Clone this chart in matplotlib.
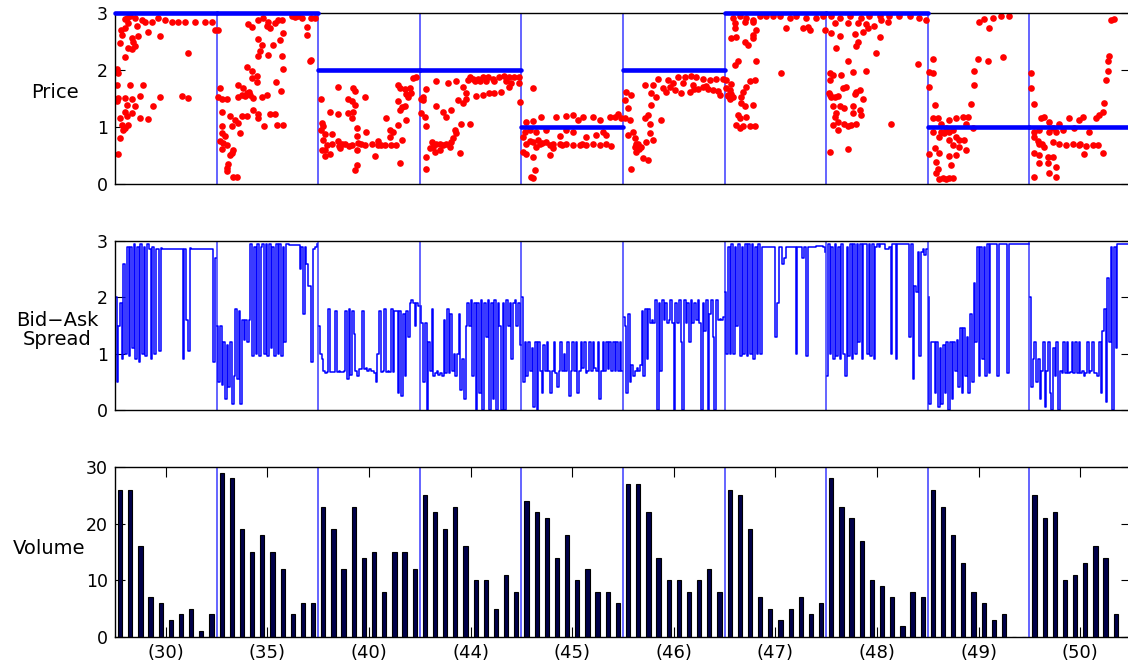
import matplotlib
matplotlib.use("Agg")
import matplotlib.pyplot as plt
import numpy as np

plt.rcParams["font.family"] = ["DejaVu Sans"]

# ---- data -----------------------------------------------------------------
seg_labels = ["(30)", "(35)", "(40)", "(44)", "(45)",
              "(46)", "(47)", "(48)", "(49)", "(50)"]

# fundamental value per segment (thick blue line in the price panel)
price_level = [3, 3, 2, 2, 1, 2, 3, 3, 1, 1]

# traded volume, 10 periods per segment
volume = [
    26, 26, 16, 7, 6, 3, 4, 5, 1, 4,
    29, 28, 19, 15, 18, 15, 12, 4, 6, 6,
    23, 19, 12, 23, 14, 15, 8, 15, 15, 12,
    25, 22, 19, 23, 16, 10, 10, 5, 11, 8,
    24, 22, 21, 14, 18, 10, 12, 8, 8, 6,
    27, 27, 22, 14, 10, 10, 8, 10, 12, 8,
    26, 25, 19, 7, 5, 3, 5, 7, 4, 6,
    28, 23, 21, 17, 10, 9, 7, 2, 8, 7,
    26, 23, 18, 13, 8, 6, 3, 4, 0, 0,
    25, 21, 22, 10, 11, 13, 16, 14, 4, 0,
]

# transaction prices: (time within segment 0..10, price)
price_30 = [
    (1.15, 2.92), (1.97, 2.91), (2.62, 2.88), (2.95, 2.85), (3.6, 2.84), (4.26, 2.91),
    (4.9, 2.87), (5.57, 2.84), (6.2, 2.84), (6.9, 2.84), (7.87, 2.85), (8.85, 2.84),
    (9.5, 2.84), (9.84, 2.71), (1.31, 2.82), (0.98, 2.74), (2.13, 2.77), (0.66, 2.62),
    (1.64, 2.56), (2.3, 2.59), (3.28, 2.67), (4.43, 2.59), (0.49, 2.47), (1.31, 2.39),
    (1.64, 2.36), (1.97, 2.42), (1.8, 2.5), (0.98, 2.22), (7.2, 2.29), (0.16, 2.02),
    (0.33, 1.95), (0.16, 1.74), (1.48, 1.74), (2.79, 1.74), (0.33, 1.51), (0.16, 1.45),
    (0.98, 1.51), (1.64, 1.5), (2.46, 1.54), (4.43, 1.52), (6.56, 1.54), (7.2, 1.51),
    (1.15, 1.39), (1.97, 1.36), (3.77, 1.37), (0.98, 1.27), (1.64, 1.25), (0.49, 1.16),
    (1.15, 1.19), (2.46, 1.16), (3.28, 1.14), (0.66, 1.04), (1.31, 1.04), (0.82, 0.95),
    (0.49, 0.81), (0.33, 0.53), (1.0, 2.9), (1.5, 2.95), (0.6, 2.7), (1.0, 0.98),
]
price_35 = [
    (0.16, 2.71), (3.11, 2.81), (4.1, 2.88), (4.59, 2.91), (5.08, 2.85), (5.74, 2.82),
    (6.07, 2.88), (6.39, 2.87), (7.38, 2.94), (8.36, 2.92), (9.34, 2.91), (9.67, 2.91),
    (4.92, 2.77), (3.44, 2.75), (5.25, 2.74), (6.56, 2.65), (8.85, 2.75), (8.85, 2.62),
    (4.1, 2.55), (6.23, 2.53), (5.57, 2.44), (4.43, 2.43), (4.26, 2.34), (4.1, 2.24),
    (5.08, 2.26), (6.46, 2.24), (9.28, 2.18), (9.18, 2.15), (2.95, 2.06), (3.44, 1.98),
    (3.93, 1.89), (3.44, 1.86), (6.56, 2.01), (3.93, 1.79), (5.84, 1.79), (6.33, 1.64),
    (0.33, 1.68), (2.13, 1.74), (2.62, 1.68), (2.46, 1.57), (2.95, 1.6), (3.28, 1.56),
    (3.61, 1.51), (2.13, 1.52), (4.43, 1.53), (4.92, 1.56), (0.16, 1.52), (0.49, 1.5),
    (0.98, 1.49), (3.61, 1.3), (4.1, 1.23), (5.25, 1.23), (5.74, 1.23), (0.49, 1.26),
    (1.31, 1.19), (1.8, 1.13), (2.13, 1.07), (2.46, 1.2), (2.95, 1.2), (4.1, 1.15),
    (5.9, 1.04), (6.56, 1.03), (4.66, 1.02), (0.49, 1.01), (1.48, 1.01), (0.49, 0.89),
    (0.82, 0.85), (2.3, 0.89), (0.33, 0.75), (0.66, 0.72), (0.98, 0.69), (0.49, 0.62),
    (1.64, 0.6), (1.48, 0.54), (1.31, 0.51), (1.15, 0.35), (0.98, 0.28), (0.98, 0.22),
    (1.64, 0.13), (1.97, 0.12), (3.2, 1.62), (2.8, 1.55), (8.0, 2.95), (7.7, 2.93),
]
price_40 = [
    (0.26, 1.5), (1.97, 1.71), (3.44, 1.68), (3.61, 1.63), (4.59, 1.52), (2.95, 1.5),
    (3.28, 1.45), (3.61, 1.38), (1.15, 1.26), (1.97, 1.23), (2.95, 1.25), (3.44, 1.26),
    (3.28, 1.16), (6.72, 1.16), (7.87, 1.74), (8.03, 1.68), (8.52, 1.67), (9.02, 1.68),
    (9.34, 1.86), (9.67, 1.87), (9.18, 1.6), (8.69, 1.58), (8.85, 1.52), (7.87, 1.46),
    (8.2, 1.35), (8.52, 1.36), (8.03, 1.3), (8.69, 1.13), (0.33, 1.07), (0.49, 1.01),
    (0.26, 0.95), (0.66, 0.87), (1.31, 0.87), (1.97, 0.75), (2.62, 0.7), (3.28, 0.69),
    (3.93, 0.72), (4.59, 0.69), (5.25, 0.7), (5.9, 0.68), (6.56, 0.68), (7.21, 0.68),
    (7.7, 0.68), (1.31, 0.7), (0.82, 0.69), (0.49, 0.78), (0.33, 0.6), (0.66, 0.6),
    (1.15, 0.53), (2.13, 0.64), (3.77, 0.6), (5.57, 0.49), (3.77, 0.98), (4.75, 0.92),
    (3.77, 0.84), (5.9, 0.76), (7.05, 0.95), (7.38, 0.92), (7.87, 1.04), (7.05, 0.82),
    (8.2, 0.78), (8.03, 0.37), (3.77, 0.34), (3.61, 0.25), (0.66, 0.49), (2.3, 0.7),
    (4.2, 0.7), (6.2, 0.69), (2.0, 0.66), (3.0, 0.66),
]
price_44 = [
    (0.65, 1.66), (1.63, 1.8), (2.78, 1.77), (3.59, 1.8), (4.25, 1.71), (4.74, 1.82),
    (5.23, 1.84), (5.72, 1.85), (6.21, 1.88), (6.7, 1.87), (7.19, 1.85), (7.84, 1.88),
    (8.33, 1.89), (8.82, 1.88), (9.31, 1.87), (9.8, 1.88), (4.9, 1.88), (5.39, 1.8),
    (5.88, 1.81), (6.54, 1.8), (7.35, 1.8), (8.5, 1.8), (8.99, 1.77), (8.82, 1.7),
    (8.01, 1.62), (7.35, 1.59), (6.86, 1.6), (6.21, 1.56), (5.56, 1.54), (4.58, 1.59),
    (4.58, 1.5), (4.25, 1.42), (3.76, 1.47), (0.33, 1.47), (0.16, 1.24), (0.49, 1.18),
    (0.65, 1.01), (1.63, 1.36), (2.29, 1.27), (3.1, 1.3), (2.61, 1.18), (3.43, 0.95),
    (3.59, 0.89), (4.08, 1.06), (4.9, 1.06), (3.27, 0.8), (3.1, 0.74), (2.94, 0.65),
    (2.29, 0.68), (1.63, 0.71), (1.31, 0.65), (0.98, 0.63), (1.47, 0.57), (1.96, 0.6),
    (3.92, 0.54), (0.65, 0.48), (0.65, 0.27), (9.8, 1.77), (9.9, 1.43), (0.16, 1.5),
    (0.33, 1.52), (2.0, 0.7), (2.6, 0.7), (1.2, 0.74),
]
price_45 = [
    (1.15, 1.68), (0.49, 1.09), (1.15, 1.11), (1.97, 1.18), (3.44, 1.17), (4.43, 1.19),
    (5.08, 1.21), (5.57, 1.13), (6.07, 1.18), (7.05, 1.18), (7.7, 1.13), (8.69, 1.17),
    (9.18, 1.18), (9.51, 1.23), (9.84, 1.15), (0.33, 0.92), (0.82, 0.95), (0.16, 0.83),
    (1.48, 0.92), (2.46, 0.95), (3.77, 0.84), (4.43, 0.95), (5.08, 0.92), (6.39, 0.83),
    (7.38, 0.86), (8.36, 0.86), (8.03, 0.92), (0.49, 0.71), (1.15, 0.74), (1.8, 0.71),
    (2.46, 0.74), (3.11, 0.71), (3.77, 0.7), (4.43, 0.71), (5.08, 0.68), (5.74, 0.68),
    (6.39, 0.68), (7.05, 0.7), (7.7, 0.68), (8.36, 0.7), (8.85, 0.67), (1.48, 0.65),
    (3.11, 0.63), (0.16, 0.57), (0.49, 0.53), (1.15, 0.48), (2.79, 0.51), (1.31, 0.25),
    (0.98, 0.13), (1.15, 0.1), (2.0, 0.72), (2.8, 0.69), (4.0, 0.68), (6.0, 0.71),
    (0.8, 0.76), (1.6, 0.78),
]
price_46 = [
    (0.16, 1.47), (0.33, 1.62), (0.82, 1.56), (0.49, 1.33), (0.16, 1.15), (0.66, 1.12),
    (0.98, 0.92), (0.49, 0.86), (1.15, 0.8), (1.48, 0.71), (1.8, 0.65), (1.31, 0.57),
    (1.97, 0.45), (0.82, 0.27), (1.15, 0.65), (2.3, 0.74), (2.62, 0.89), (2.62, 1.06),
    (2.46, 1.21), (2.13, 1.15), (2.95, 0.77), (2.46, 0.42), (3.77, 1.12), (2.79, 1.39),
    (2.13, 1.74), (2.79, 1.59), (2.95, 1.74), (3.44, 1.85), (4.43, 1.82), (5.41, 1.88),
    (6.07, 1.88), (6.72, 1.89), (7.21, 1.87), (7.87, 1.85), (8.52, 1.82), (9.18, 1.84),
    (9.84, 1.85), (3.28, 1.53), (4.26, 1.62), (5.08, 1.65), (5.74, 1.59), (6.56, 1.62),
    (7.38, 1.66), (8.36, 1.66), (9.34, 1.64), (3.93, 1.68), (4.92, 1.77), (5.9, 1.77),
    (6.89, 1.74), (7.87, 1.7), (8.85, 1.65), (9.51, 1.56), (1.3, 0.7), (1.6, 0.62),
    (4.6, 1.7), (7.0, 1.66), (8.2, 1.72),
]
price_47 = [
    (0.82, 2.92), (1.48, 2.94), (2.13, 2.91), (2.79, 2.88), (3.44, 2.95), (4.1, 2.94),
    (4.75, 2.95), (5.41, 2.94), (6.39, 2.92), (7.05, 2.94), (8.03, 2.92), (9.02, 2.92),
    (9.67, 2.94), (0.98, 2.82), (1.97, 2.85), (2.79, 2.85), (0.66, 2.57), (1.15, 2.58),
    (1.97, 2.5), (2.3, 2.44), (2.79, 2.61), (2.79, 2.56), (3.11, 2.71), (0.98, 2.74),
    (6.07, 2.73), (7.7, 2.73), (8.2, 2.75), (8.36, 2.7), (9.84, 2.7), (1.31, 2.15),
    (0.98, 2.09), (3.11, 2.15), (5.57, 1.94), (0.16, 1.82), (0.66, 1.75), (0.49, 1.65),
    (0.33, 1.56), (0.82, 1.53), (0.49, 1.49), (0.16, 1.68), (1.8, 1.62), (1.64, 1.53),
    (2.13, 1.71), (2.46, 1.8), (2.95, 1.82), (1.64, 1.42), (1.97, 1.36), (2.79, 1.39),
    (1.31, 1.21), (1.48, 1.15), (2.13, 1.17), (1.15, 1.04), (1.48, 0.98), (2.46, 1.02),
    (2.95, 1.02), (1.8, 1.01), (0.3, 1.55), (0.6, 1.58),
]
price_48 = [
    (0.49, 2.94), (1.31, 2.92), (2.3, 2.94), (3.44, 2.92), (4.26, 2.95), (5.25, 2.94),
    (6.23, 2.95), (7.21, 2.94), (8.2, 2.94), (9.18, 2.92), (9.84, 2.88), (0.82, 2.83),
    (2.13, 2.82), (3.11, 2.83), (3.93, 2.81), (4.75, 2.77), (5.41, 2.87), (6.07, 2.85),
    (0.49, 2.65), (1.31, 2.6), (2.79, 2.64), (3.61, 2.67), (4.1, 2.73), (5.25, 2.58),
    (4.92, 2.29), (0.98, 2.38), (3.11, 2.5), (2.95, 2.42), (2.13, 2.16), (9.02, 2.11),
    (2.62, 1.97), (3.93, 1.99), (0.33, 1.94), (0.66, 1.91), (1.48, 1.91), (0.33, 1.82),
    (0.33, 1.56), (0.82, 1.53), (1.15, 1.54), (1.64, 1.68), (1.97, 1.7), (2.95, 1.62),
    (3.28, 1.65), (2.79, 1.58), (3.61, 1.49), (0.66, 1.36), (1.31, 1.36), (1.8, 1.33),
    (2.62, 1.36), (3.28, 1.3), (0.98, 1.24), (0.82, 1.18), (1.15, 1.09), (0.66, 1.04),
    (1.15, 0.95), (1.8, 1.06), (2.46, 1.04), (2.95, 1.06), (2.13, 1.01), (3.44, 1.21),
    (2.62, 1.24), (6.39, 1.06), (0.33, 0.57), (2.13, 0.61), (0.3, 1.6), (0.5, 1.52),
]
price_49 = [
    (0.49, 2.19), (0.16, 1.97), (0.49, 1.95), (0.16, 1.71), (0.66, 1.39), (0.49, 1.15),
    (0.98, 1.15), (1.31, 1.06), (2.13, 1.12), (2.79, 1.15), (3.44, 1.17), (3.93, 1.18),
    (4.26, 1.4), (4.59, 1.74), (4.59, 1.99), (4.92, 2.2), (5.9, 2.16), (7.38, 2.23),
    (5.08, 2.85), (5.57, 2.89), (6.39, 2.92), (7.21, 2.94), (8.03, 2.95), (6.07, 2.73),
    (0.49, 0.92), (1.31, 0.92), (2.13, 0.92), (2.46, 0.95), (1.15, 0.83), (2.13, 0.77),
    (2.79, 0.83), (3.11, 0.77), (3.61, 0.77), (2.46, 0.68), (3.11, 0.65), (3.77, 0.6),
    (0.66, 0.63), (0.16, 0.53), (1.15, 0.54), (2.13, 0.49), (2.79, 0.51), (0.82, 0.39),
    (0.98, 0.27), (0.82, 0.19), (1.15, 0.08), (1.8, 0.08), (2.46, 0.1), (2.3, 0.33),
    (3.77, 1.06), (1.8, 0.98), (4.43, 0.98), (1.5, 0.1), (2.1, 0.1), (1.6, 0.9),
]
price_50 = [
    (0.16, 1.94), (0.16, 1.68), (0.49, 1.4), (1.15, 1.15), (1.48, 1.18), (1.97, 1.09),
    (2.3, 0.98), (2.95, 1.06), (3.93, 1.15), (4.92, 1.12), (5.25, 1.18), (6.56, 1.15),
    (6.89, 1.21), (7.21, 1.27), (7.38, 1.42), (7.54, 1.82), (7.7, 2.15), (7.87, 2.24),
    (7.7, 1.98), (8.03, 2.87), (8.36, 2.9), (0.49, 0.92), (0.98, 0.95), (1.97, 0.92),
    (2.62, 0.92), (3.28, 0.95), (4.43, 0.98), (5.9, 0.92), (0.49, 0.83), (0.98, 0.71),
    (1.48, 0.65), (2.3, 0.74), (2.95, 0.71), (3.61, 0.68), (4.26, 0.7), (4.92, 0.68),
    (5.57, 0.67), (6.23, 0.68), (6.72, 0.68), (7.21, 0.54), (0.49, 0.54), (0.98, 0.51),
    (1.8, 0.48), (2.3, 0.48), (2.62, 0.3), (1.8, 0.37), (0.98, 0.36), (1.97, 0.19),
    (2.62, 0.13), (0.49, 0.13), (5.41, 0.53), (0.8, 0.75), (1.2, 0.7), (5.0, 0.7),
]

# bid-ask spread, sampled at equal steps within each segment
spread_30 = [2.0, 0.5, 1.5, 1.9, 0.9, 2.6, 1.0, 2.9, 0.95, 2.9, 1.1, 2.95, 0.9, 2.9, 0.85,
             2.95, 1.0, 2.9, 0.95, 2.95, 2.85, 0.9, 2.9, 1.0, 2.85, 2.85, 1.05, 2.87, 2.86, 2.85,
             2.85, 2.85, 2.85, 2.85, 2.85, 2.85, 2.85, 2.85, 2.85, 2.85, 0.9, 2.85, 1.6, 1.05, 2.87,
             2.85, 2.85, 2.85, 2.85, 2.85, 2.85, 2.85, 2.85, 2.85, 2.85, 2.85, 2.85, 2.85, 0.85, 2.7]
spread_35 = [1.5, 0.5, 1.5, 0.45, 1.2, 0.2, 1.15, 0.4, 1.2, 0.1, 0.6, 1.8, 0.55, 1.75, 0.1,
             1.6, 1.25, 1.6, 1.2, 1.6, 2.95, 0.95, 2.9, 1.0, 2.95, 0.95, 2.9, 2.95, 1.0, 2.95,
             0.95, 2.95, 1.1, 2.9, 0.95, 2.95, 1.0, 2.95, 0.95, 2.9, 1.2, 2.95, 2.95, 2.93, 2.93,
             2.93, 2.93, 2.93, 2.93, 2.5, 2.9, 1.7, 2.9, 2.6, 2.2, 2.2, 0.85, 2.85, 2.9, 2.95]
spread_40 = [1.5, 1.0, 0.9, 0.7, 0.65, 0.68, 1.8, 0.68, 0.68, 0.68, 1.75, 0.68, 0.7, 0.68, 0.68,
             0.7, 1.75, 0.55, 1.8, 0.62, 1.75, 1.35, 0.7, 0.6, 0.72, 0.72, 1.75, 0.72, 0.75, 0.7,
             0.72, 0.7, 0.7, 0.65, 0.5, 1.0, 1.75, 0.68, 0.7, 1.8, 0.68, 0.7, 0.68, 1.8, 0.68,
             1.75, 1.75, 0.3, 1.75, 0.25, 1.7, 0.6, 1.75, 1.3, 1.9, 1.95, 1.9, 1.5, 1.9, 1.85]
spread_44 = [1.85, 1.55, 0.5, 1.55, 0.0, 1.2, 0.7, 1.8, 0.6, 0.65, 0.7, 0.62, 0.65, 0.6, 1.6,
             0.65, 1.8, 0.65, 1.7, 0.7, 1.0, 0.6, 1.0, 1.7, 0.35, 0.9, 0.2, 1.5, 1.9, 1.5,
             1.95, 0.6, 1.9, 0.0, 1.9, 0.3, 1.95, 0.0, 1.9, 1.3, 1.95, 0.0, 1.9, 0.2, 1.95,
             0.0, 1.9, 1.5, 0.0, 1.9, 0.0, 1.95, 1.5, 1.9, 0.9, 1.9, 1.95, 1.5, 1.9, 1.15]
spread_45 = [2.0, 0.5, 1.2, 0.6, 1.2, 0.7, 1.1, 0.05, 1.2, 0.0, 1.2, 0.7, 0.3, 1.15, 0.7,
             1.2, 0.7, 0.3, 0.7, 1.2, 0.65, 0.4, 0.7, 1.2, 0.7, 1.0, 0.7, 1.2, 0.25, 0.7,
             1.2, 0.7, 1.2, 0.3, 0.7, 1.2, 0.75, 1.2, 0.65, 0.7, 1.2, 0.7, 1.2, 0.75, 0.7,
             1.2, 0.2, 0.7, 1.2, 0.7, 1.2, 0.72, 1.2, 0.7, 1.2, 0.7, 1.2, 0.7, 1.2, 0.7]
spread_46 = [1.65, 1.5, 0.3, 1.7, 0.5, 0.8, 0.6, 0.7, 0.75, 0.7, 0.8, 1.75, 0.6, 1.8, 0.9,
             1.8, 1.55, 1.6, 1.55, 1.95, 0.0, 1.9, 0.7, 1.95, 1.6, 1.9, 1.55, 1.6, 1.95, 1.55,
             0.0, 1.9, 1.55, 1.95, 1.2, 0.0, 1.95, 1.55, 1.9, 1.2, 1.95, 1.55, 1.9, 1.6, 1.95,
             1.55, 0.0, 1.9, 1.4, 1.95, 0.0, 1.7, 1.95, 1.3, 0.0, 1.95, 1.6, 1.62, 1.6, 1.65]
spread_47 = [2.1, 1.0, 2.9, 1.0, 2.95, 1.0, 2.9, 1.5, 2.95, 0.95, 2.9, 1.0, 2.95, 0.95, 2.95,
             1.0, 2.95, 0.9, 2.9, 1.0, 2.95, 1.0, 2.9, 2.9, 2.9, 2.9, 2.9, 2.9, 2.9, 2.9,
             1.3, 1.9, 2.9, 2.9, 2.6, 2.7, 2.9, 2.9, 2.9, 2.9, 2.9, 2.9, 1.0, 2.9, 2.9,
             2.9, 2.7, 2.9, 0.95, 2.9, 2.9, 2.9, 2.9, 2.9, 2.92, 2.92, 2.92, 2.92, 2.9, 2.8]
spread_48 = [0.6, 2.95, 1.0, 2.9, 0.9, 2.95, 0.95, 2.9, 0.9, 2.95, 1.0, 0.6, 2.9, 0.95, 2.95,
             0.9, 2.95, 1.0, 2.95, 1.2, 2.95, 0.9, 2.95, 2.95, 1.0, 2.95, 0.95, 2.95, 0.9, 2.9,
             2.95, 2.9, 2.95, 2.95, 2.95, 2.85, 2.85, 2.9, 1.0, 2.95, 2.95, 0.9, 2.95, 2.95, 2.95,
             2.95, 2.95, 2.95, 2.95, 1.3, 2.95, 0.55, 2.2, 2.1, 2.8, 0.95, 2.8, 2.85, 2.75, 2.85]
spread_49 = [2.0, 0.1, 1.2, 1.2, 0.3, 1.2, 0.05, 1.1, 0.1, 1.15, 0.3, 1.2, 0.0, 1.2, 0.2,
             1.2, 0.7, 1.25, 0.4, 1.45, 0.3, 1.45, 0.6, 1.3, 0.3, 1.7, 0.5, 2.25, 1.2, 2.9,
             0.6, 2.9, 0.9, 2.9, 0.6, 2.95, 0.65, 2.95, 2.95, 2.95, 2.95, 0.6, 2.95, 2.95, 2.95,
             2.95, 2.95, 0.65, 2.95, 2.95, 2.95, 2.95, 2.95, 2.95, 2.95, 2.95, 2.95, 2.95, 2.95, 2.95]
spread_50 = [2.0, 0.4, 0.9, 1.2, 0.5, 0.9, 0.2, 0.7, 1.2, 0.05, 0.7, 1.2, 0.3, 0.0, 1.1,
             0.6, 1.2, 0.0, 0.7, 0.65, 1.2, 0.65, 1.2, 0.65, 0.68, 1.2, 0.65, 1.2, 0.65, 1.2,
             0.65, 0.7, 0.6, 0.65, 1.2, 0.65, 0.7, 1.2, 0.65, 0.65, 0.6, 1.2, 0.3, 1.4, 1.8,
             0.15, 2.35, 1.2, 2.9, 0.0, 2.9, 1.1, 2.95, 2.95, 2.95, 2.95, 2.95, 2.95, 2.95, 2.95]

price_segs = [price_30, price_35, price_40, price_44, price_45,
              price_46, price_47, price_48, price_49, price_50]
spread_segs = [spread_30, spread_35, spread_40, spread_44, spread_45,
               spread_46, spread_47, spread_48, spread_49, spread_50]

# ---- figure ---------------------------------------------------------------
W, H = 1128, 667
fig = plt.figure(figsize=(W / 100, H / 100), dpi=100)
left, width = 115 / W, 1016 / W
ax_p = fig.add_axes([left, (H - 184) / H, width, 171 / H])
ax_s = fig.add_axes([left, (H - 410) / H, width, 169 / H])
ax_v = fig.add_axes([left, (H - 637) / H, width, 170 / H])

n_seg = len(seg_labels)
SEP = "#4a4aff"

for ax in (ax_p, ax_s, ax_v):
    ax.set_xlim(0, 10 * n_seg)
    for k in range(1, n_seg):
        ax.axvline(10 * k, color=SEP, lw=1.2, zorder=1)
    ax.tick_params(direction="in", length=7, width=0.8, right=True, top=True,
                   labelsize=12.5, pad=5)
    for sp in ax.spines.values():
        sp.set_linewidth(1.0)

# price panel
for k, pts in enumerate(price_segs):
    xs = [10 * k + p[0] for p in pts]
    ys = [p[1] for p in pts]
    ax_p.plot(xs, ys, "o", color="#ff0000", ms=4.8, mew=0, zorder=2)
for k, lv in enumerate(price_level):
    ax_p.plot([10 * k, 10 * k + 10], [lv, lv], color="#0000ff", lw=3.3,
              solid_capstyle="round", zorder=3, clip_on=False)
ax_p.set_ylim(0, 3)
ax_p.set_yticks([0, 1, 2, 3])
ax_p.set_xticks([])

# spread panel
for k, vals in enumerate(spread_segs):
    n = len(vals)
    xs = 10 * k + (np.arange(n) + 0.5) * 10 / n
    ax_s.plot(xs, vals, drawstyle="steps-mid", color="#0000ff", lw=1.1, zorder=2)
ax_s.set_ylim(0, 3)
ax_s.set_yticks([0, 1, 2, 3])
ax_s.set_xticks([])

# volume panel
xv = np.arange(len(volume)) + 0.5
ax_v.bar(xv, volume, width=0.42, color="#00004a", edgecolor="black", lw=0.8, zorder=2)
ax_v.set_ylim(0, 30)
ax_v.set_yticks([0, 10, 20, 30])
ax_v.set_xticks([10 * k + 5 for k in range(n_seg)])
ax_v.set_xticklabels(seg_labels)
ax_v.tick_params(axis="x", pad=5, labelsize=13)

# horizontal y labels (MATLAB style)
fig.text(55 / W, 1 - 93 / H, "Price", ha="center", va="center", fontsize=14)
fig.text(57 / W, 1 - 330 / H, "Bid\u2212Ask\nSpread", ha="center", va="center",
         fontsize=14, linespacing=1.0)
fig.text(49 / W, 1 - 548 / H, "Volume", ha="center", va="center", fontsize=14)

fig.savefig("out.png", dpi=100)
